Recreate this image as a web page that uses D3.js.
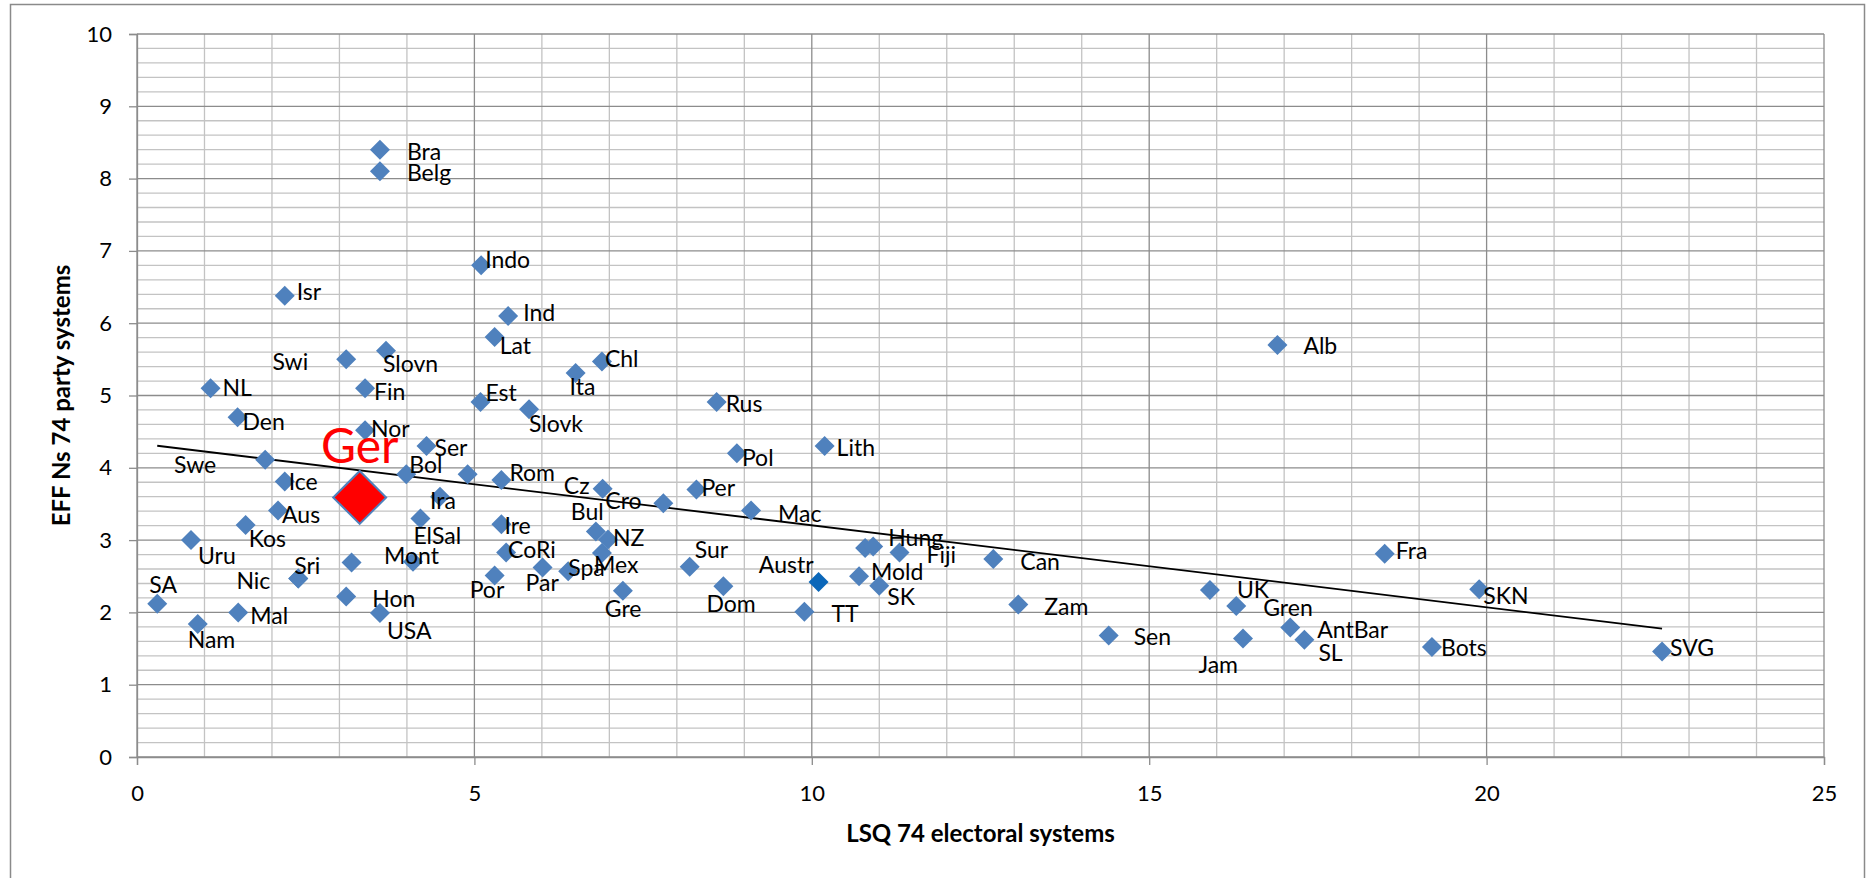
<!DOCTYPE html>
<html>
<head>
<meta charset="utf-8">
<script src="https://cdn.jsdelivr.net/npm/d3@7"></script>
<style>
  body { margin: 0; background: #fff; }
  svg { display: block; font-family: Lato, "Liberation Sans", sans-serif; }
</style>
</head>
<body>
<div id="root"></div>
<script>
const width = 1867;
const height = 878;

// country codes ("" = point without a label in the original)
const countries = ["Bra","Belg","Indo","Isr","Ind","Lat","Swi","Slovn","Chl","NL",
  "Fin","Ita","Est","Slovk","Den","Nor","Ser","Swe","Bol","",
  "Rom","Ice","Ira","Cz","Aus","Kos","Uru","ElSal","Ire","Bul",
  "CoRi","Mont","","Sri","Nic","Hon","USA","SA","Nam","Mal",
  "Por","Par","Spa","Mex","Gre","NZ","Cro","Rus","Pol","Lith",
  "Per","Mac","Sur","Dom","TT","Austr","","Hung","Fiji","Mold",
  "SK","Can","Zam","Sen","UK","Gren","Jam","AntBar","SL","Fra",
  "SKN","Bots","SVG","Alb","Ger"];
const lsq = [3.6,3.6,5.1,2.19,5.5,5.3,3.1,3.69,6.89,1.09,
  3.38,6.5,5.09,5.81,1.49,3.38,4.29,1.9,3.99,4.9,
  5.4,2.19,4.49,6.9,2.09,1.61,0.8,4.2,5.4,6.8,
  5.47,4.09,3.18,2.39,2.39,3.1,3.6,0.3,0.9,1.5,
  5.3,6.01,6.39,6.89,7.2,6.98,7.8,8.59,8.89,10.19,
  8.29,9.1,8.19,8.69,9.89,10.1,10.79,10.91,11.3,10.7,
  11.0,12.69,13.06,14.4,15.9,16.29,16.39,17.09,17.3,18.49,
  19.89,19.19,22.6,16.9,3.3];
const effN = [8.4,8.1,6.8,6.38,6.1,5.81,5.5,5.62,5.47,5.1,
  5.1,5.31,4.91,4.81,4.7,4.52,4.3,4.11,3.91,3.91,
  3.83,3.81,3.6,3.71,3.41,3.21,3.0,3.3,3.22,3.12,
  2.83,2.7,2.69,2.47,2.47,2.22,1.99,2.12,1.84,2.0,
  2.51,2.62,2.57,2.82,2.3,3.01,3.51,4.91,4.2,4.3,
  3.7,3.41,2.63,2.36,2.01,2.42,2.89,2.91,2.83,2.5,
  2.37,2.74,2.11,1.68,2.31,2.09,1.64,1.79,1.62,2.81,
  2.32,1.52,1.46,5.7,3.59];
const highlight = "Ger";
const xTicks = [0, 5, 10, 15, 20, 25];
const yTicks = [0, 1, 2, 3, 4, 5, 6, 7, 8, 9, 10];
const xTitle = "LSQ 74 electoral systems";
const yTitle = "EFF Ns 74 party systems";

// label placement (pixels from the marker): [dx, dy, anchor]
const labelPos = {
  Bra:[27,2], Belg:[27,1], Indo:[4,-6], Isr:[12,-4], Ind:[15,-3], Lat:[5,9],
  Swi:[-38,2,"end"], Slovn:[-3,13], Chl:[3,-3], NL:[12,-1], Fin:[9,3], Ita:[-6,14],
  Est:[5,-9], Slovk:[0,14], Den:[5,5], Nor:[6,-2], Ser:[8,2], Swe:[-49,5,"end"],
  Bol:[3,-10], Rom:[8,-7], Ice:[4,0], Ira:[-10,4], Cz:[-13,-3,"end"], Aus:[4,4],
  Kos:[3,14], Uru:[7,16], ElSal:[-7,17], Ire:[3,2], Bul:[-25,-20], CoRi:[2,-3],
  Mont:[-29,-6], Sri:[-4,-13], Nic:[-28,2,"end"], Hon:[26,2], USA:[7,18], SA:[-8,-19],
  Nam:[-10,16], Mal:[12,3], Por:[-25,14], Par:[-17,15], Spa:[0,-3], Mex:[-8,12],
  Gre:[-18,18], NZ:[5,-2], Cro:[-58,-3], Rus:[9,2], Pol:[5,4], Lith:[12,2],
  Per:[5,-2], Mac:[27,3], Sur:[5,-17], Dom:[-17,17], TT:[27,2], Austr:[-5,-17,"end"],
  Hung:[15,-9], Fiji:[27,2], Mold:[12,-5], SK:[8,11], Can:[27,3], Zam:[26,2],
  Sen:[25,1], UK:[27,0], Gren:[27,2], Jam:[-5,26,"end"], AntBar:[27,2], SL:[14,13],
  Fra:[11,-3], SKN:[4,6], Bots:[9,1], SVG:[8,-4], Alb:[26,1]
};

const data = countries.map((c, i) => ({name: c, x: lsq[i], y: effN[i]}));

const plot = {left: 137, right: 1824, top: 34, bottom: 757};

const svg = d3.select('#root')
  .append('svg')
  .attr('width', width).attr('height', height);

// chart frame (bottom edge runs off the picture)
svg.append('rect')
  .attr('x', 10.5).attr('y', 4.5)
  .attr('width', 1854).attr('height', 900)
  .attr('fill', '#fff')
  .attr('stroke', '#8a8a8a').attr('stroke-width', 1.5);

const xScale = d3.scaleLinear().domain([0, 25]).range([plot.left, plot.right]);
const yScale = d3.scaleLinear().domain([0, 10]).range([plot.bottom, plot.top]);

// gridlines
const grid = svg.append('g');
const xMinor = d3.range(0, 26).filter(v => v % 5 !== 0);
const yMinor = d3.range(0, 50).map(v => v / 5).filter(v => Math.abs(v - Math.round(v)) > 1e-6);

grid.selectAll('.xminor').data(xMinor).enter().append('line')
  .attr('x1', d => xScale(d)).attr('x2', d => xScale(d))
  .attr('y1', plot.top).attr('y2', plot.bottom)
  .attr('stroke', '#c3c3c3').attr('stroke-width', 1.3);
grid.selectAll('.yminor').data(yMinor).enter().append('line')
  .attr('x1', plot.left).attr('x2', plot.right)
  .attr('y1', d => yScale(d)).attr('y2', d => yScale(d))
  .attr('stroke', '#c3c3c3').attr('stroke-width', 1.3);
grid.selectAll('.ymajor').data(yTicks).enter().append('line')
  .attr('x1', plot.left).attr('x2', plot.right)
  .attr('y1', d => yScale(d)).attr('y2', d => yScale(d))
  .attr('stroke', '#8c8c8c').attr('stroke-width', 1.3);
grid.selectAll('.xmajor').data(xTicks).enter().append('line')
  .attr('x1', d => xScale(d)).attr('x2', d => xScale(d))
  .attr('y1', plot.top).attr('y2', plot.bottom)
  .attr('stroke', '#8c8c8c').attr('stroke-width', 1.3);

// axes
const xAxis = d3.axisBottom(xScale).tickValues(xTicks).tickSize(8).tickPadding(20).tickFormat(d3.format('d'));
const yAxis = d3.axisLeft(yScale).tickValues(yTicks).tickSize(8).tickPadding(17).tickFormat(d3.format('d'));

const gx = svg.append('g')
  .attr('transform', `translate(0, ${plot.bottom})`)
  .call(xAxis);
const gy = svg.append('g')
  .attr('transform', `translate(${plot.left}, 0)`)
  .call(yAxis);

[gx, gy].forEach(g => {
  g.select('.domain').attr('stroke', '#8c8c8c').attr('stroke-width', 1.3);
  g.selectAll('.tick line').attr('stroke', '#8c8c8c').attr('stroke-width', 1.3);
  g.selectAll('.tick text')
    .attr('fill', '#000')
    .style('font-family', 'Lato, sans-serif')
    .style('font-size', '22px');
});

// axis titles
svg.append('text')
  .attr('x', (plot.left + plot.right) / 2).attr('y', 842)
  .attr('text-anchor', 'middle')
  .style('font-size', '24px').style('font-weight', 'bold')
  .text(xTitle);

svg.append('text')
  .attr('transform', `translate(70, ${(plot.top + plot.bottom) / 2}) rotate(-90)`)
  .attr('text-anchor', 'middle')
  .style('font-size', '24px').style('font-weight', 'bold')
  .text(yTitle);

// linear trend line (least squares over all points)
const mx = d3.mean(data, d => d.x);
const my = d3.mean(data, d => d.y);
const slope = d3.sum(data, d => (d.x - mx) * (d.y - my)) / d3.sum(data, d => (d.x - mx) ** 2);
const icpt = my - slope * mx;
const [x0, x1] = d3.extent(data, d => d.x);

svg.append('line')
  .attr('x1', xScale(x0)).attr('y1', yScale(icpt + slope * x0))
  .attr('x2', xScale(x1)).attr('y2', yScale(icpt + slope * x1))
  .attr('stroke', '#000').attr('stroke-width', 1.8);

// markers
const diamond = d3.symbol().type(d3.symbolSquare).size(200);
const bigDiamond = d3.symbol().type(d3.symbolSquare).size(1400);

svg.selectAll('.pt')
  .data(data.filter(d => d.name !== highlight)).enter()
  .append('path')
  .attr('d', diamond)
  .attr('transform', d => `translate(${xScale(d.x)}, ${yScale(d.y)}) rotate(45)`)
  .attr('fill', d => d.name === 'Austr' ? '#0b67b9' : '#4f81bd');

const ger = data.find(d => d.name === highlight);
svg.append('path')
  .attr('d', bigDiamond)
  .attr('transform', `translate(${xScale(ger.x)}, ${yScale(ger.y)}) rotate(45)`)
  .attr('fill', '#ff0000')
  .attr('stroke', '#4f81bd').attr('stroke-width', 2);

// labels
svg.selectAll('.lbl')
  .data(data.filter(d => d.name && labelPos[d.name])).enter()
  .append('text')
  .attr('x', d => xScale(d.x) + labelPos[d.name][0])
  .attr('y', d => yScale(d.y) + labelPos[d.name][1] + 8.3)
  .attr('text-anchor', d => labelPos[d.name][2] || 'start')
  .style('font-size', '23px')
  .attr('fill', '#000')
  .text(d => d.name);

svg.append('text')
  .attr('x', xScale(ger.x))
  .attr('y', yScale(ger.y) - 34)
  .attr('text-anchor', 'middle')
  .style('font-size', '48px')
  .attr('fill', '#ff0000')
  .text(ger.name);
</script>
</body>
</html>
